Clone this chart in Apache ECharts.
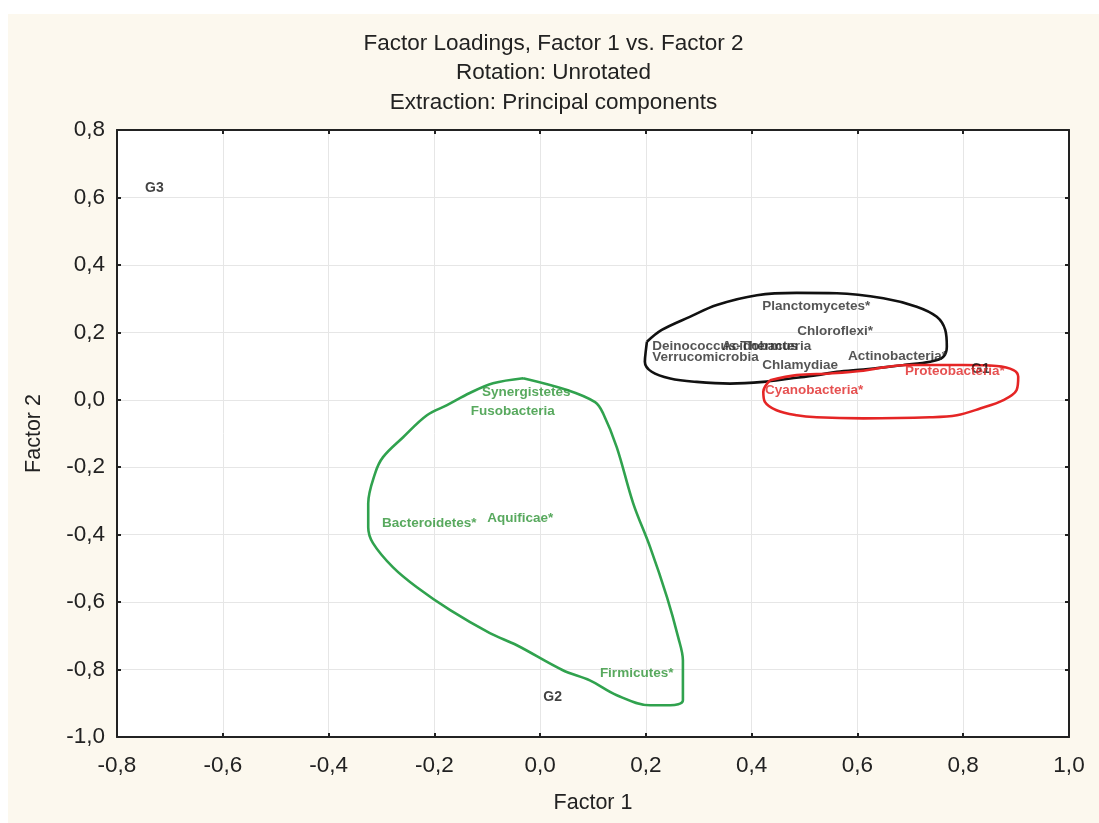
<!DOCTYPE html>
<html>
<head>
<meta charset="utf-8">
<script src="https://cdn.jsdelivr.net/npm/echarts@6/dist/echarts.min.js"></script>
<style>
  html, body { margin: 0; padding: 0; background: #fff; }
  #chart { position: absolute; left: 8px; top: 14px; width: 1091px; height: 809px; }
</style>
</head>
<body>
<div id="chart"></div>
<script>
// point labels (factor loadings)
const pointNames = ['G3', 'G2', 'G1',
  'Planctomycetes*', 'Chloroflexi*', 'Deinococcus-Thermus', 'Acidobacteria',
  'Verrucomicrobia', 'Chlamydiae', 'Actinobacteria*',
  'Proteobacteria*', 'Cyanobacteria*',
  'Synergistetes', 'Fusobacteria', 'Bacteroidetes*', 'Aquificae*', 'Firmicutes*'];
const pointX = [-0.747, 0.006, 0.815,
  0.420, 0.486, 0.212, 0.344,
  0.212, 0.420, 0.582,
  0.690, 0.425,
  -0.110, -0.131, -0.299, -0.100, 0.113];
const pointY = [0.628, -0.882, 0.091,
  0.278, 0.204, 0.159, 0.159,
  0.126, 0.103, 0.129,
  0.085, 0.029,
  0.023, -0.034, -0.366, -0.351, -0.811];
const pointGroup = ['tag', 'tag', 'tag',
  'black', 'black', 'black', 'black',
  'black', 'black', 'black',
  'red', 'red',
  'green', 'green', 'green', 'green', 'green'];

// hand-drawn group outlines
const greenOutline = [
  [-0.032, 0.064], [0.051, 0.029], [0.104, -0.007], [0.119, -0.040], [0.145, -0.141],
  [0.176, -0.307], [0.208, -0.437], [0.240, -0.586], [0.261, -0.704], [0.270, -0.773],
  [0.270, -0.891], [0.246, -0.906], [0.208, -0.906], [0.145, -0.876], [0.094, -0.832],
  [0.043, -0.802], [-0.044, -0.728], [-0.095, -0.692], [-0.170, -0.624], [-0.233, -0.556],
  [-0.278, -0.497], [-0.316, -0.425], [-0.325, -0.378], [-0.325, -0.307], [-0.312, -0.218],
  [-0.297, -0.170], [-0.259, -0.111], [-0.214, -0.046], [-0.176, -0.016], [-0.133, 0.020],
  [-0.089, 0.049], [-0.032, 0.064]
];
const blackOutline = [
  [0.202, 0.172], [0.230, 0.207], [0.283, 0.246], [0.334, 0.281], [0.410, 0.310],
  [0.485, 0.317], [0.561, 0.316], [0.649, 0.301], [0.712, 0.276], [0.750, 0.246],
  [0.766, 0.207], [0.769, 0.157], [0.762, 0.127], [0.737, 0.113], [0.687, 0.103],
  [0.649, 0.096], [0.611, 0.090], [0.561, 0.083], [0.523, 0.073], [0.473, 0.063],
  [0.422, 0.053], [0.359, 0.048], [0.296, 0.053], [0.246, 0.063], [0.211, 0.083],
  [0.198, 0.113], [0.200, 0.147], [0.202, 0.172]
];
const redOutline = [
  [0.435, 0.058], [0.485, 0.073], [0.548, 0.078], [0.611, 0.086], [0.649, 0.096],
  [0.693, 0.103], [0.800, 0.103], [0.863, 0.100], [0.895, 0.088], [0.904, 0.068],
  [0.901, 0.029], [0.876, -0.001], [0.832, -0.026], [0.788, -0.046], [0.737, -0.052],
  [0.611, -0.055], [0.523, -0.052], [0.485, -0.046], [0.447, -0.031], [0.425, -0.006],
  [0.422, 0.024], [0.435, 0.058]
];

const xMin = -0.8, xMax = 1.0, yMin = -1.0, yMax = 0.8, step = 0.2;

const groupColors = { tag: '#111111', black: '#2a2a2a', red: '#e02626', green: '#2e9436' };
const fmt = v => v.toFixed(1).replace('.', ',');
const font = 'Liberation Sans, Arial';

const chart = echarts.init(document.getElementById('chart'));

const labelPoints = pointNames.map((n, i) => ({
  name: n,
  value: [pointX[i], pointY[i]],
  label: {
    color: groupColors[pointGroup[i]],
    fontSize: pointGroup[i] === 'tag' ? 14 : 13.5
  }
}));

const outlineSeries = (data, color) => ({
  type: 'line',
  data: data,
  smooth: 0.35,
  symbol: 'none',
  silent: true,
  lineStyle: { color: color, width: 2.6 },
  z: 3
});

const baseAxis = {
  type: 'value',
  interval: step,
  axisLine: { show: true, onZero: false, lineStyle: { color: '#222', width: 2 } },
  axisTick: { show: true, inside: true, length: 4, lineStyle: { color: '#222', width: 2 } },
  axisLabel: { color: '#222', fontSize: 22.5, fontFamily: font, formatter: fmt },
  splitLine: { show: true, lineStyle: { color: '#e6e6e6', width: 1 } }
};

const option = {
  backgroundColor: '#fcf8ee',
  animation: false,
  title: {
    text: 'Factor Loadings, Factor 1 vs. Factor 2\nRotation: Unrotated\nExtraction: Principal components',
    left: 'center',
    top: 10,
    textStyle: { fontSize: 22.5, fontWeight: 'normal', color: '#222', lineHeight: 29.5, fontFamily: font }
  },
  grid: {
    left: 109, top: 116, right: 30, bottom: 86,
    show: true, backgroundColor: '#ffffff', borderColor: '#222', borderWidth: 0
  },
  xAxis: [
    Object.assign({}, baseAxis, {
      min: xMin, max: xMax, position: 'bottom',
      name: 'Factor 1', nameLocation: 'middle', nameGap: 55,
      nameTextStyle: { fontSize: 21.5, color: '#222', fontFamily: font },
      axisLabel: Object.assign({}, baseAxis.axisLabel, { margin: 17 })
    }),
    Object.assign({}, baseAxis, {
      min: xMin, max: xMax, position: 'top',
      axisLabel: { show: false }, splitLine: { show: false }
    })
  ],
  yAxis: [
    Object.assign({}, baseAxis, {
      min: yMin, max: yMax, position: 'left',
      name: 'Factor 2', nameLocation: 'middle', nameGap: 72,
      nameTextStyle: { fontSize: 21.5, color: '#222', fontFamily: font },
      axisLabel: Object.assign({}, baseAxis.axisLabel, { margin: 12 })
    }),
    Object.assign({}, baseAxis, {
      min: yMin, max: yMax, position: 'right',
      axisLabel: { show: false }, splitLine: { show: false }
    })
  ],
  series: [
    outlineSeries(greenOutline, '#30a24e'),
    outlineSeries(blackOutline, '#111111'),
    outlineSeries(redOutline, '#e52525'),
    {
      type: 'scatter',
      data: labelPoints,
      symbolSize: 0,
      silent: true,
      z: 4,
      label: {
        show: true,
        position: 'right',
        distance: 0,
        formatter: p => p.name,
        fontWeight: 'bold',
        fontFamily: font
      }
    }
  ]
};

chart.setOption(option);
</script>
</body>
</html>
